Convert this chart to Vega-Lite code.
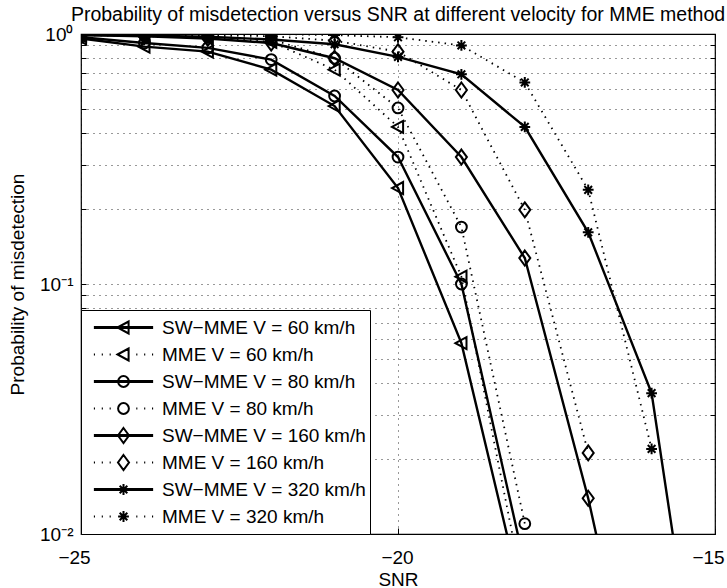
{
  "$schema": "https://vega.github.io/schema/vega-lite/v6.json",
  "width": 634,
  "height": 500,
  "autosize": {"type": "none"},
  "padding": {"left": 81, "top": 34, "right": 12, "bottom": 54},
  "background": "white",
  "title": {
    "text": "Probability of misdetection versus SNR at different velocity for MME method",
    "font": "Liberation Sans",
    "fontSize": 19.5,
    "fontWeight": "normal",
    "color": "black",
    "anchor": "middle",
    "offset": 0
  },
  "config": {
    "view": {"stroke": "black", "strokeWidth": 1.2},
    "axis": {
      "domain": false,
      "labelFont": "Liberation Sans",
      "titleFont": "Liberation Sans",
      "labelFontSize": 19,
      "titleFontSize": 19,
      "titleFontWeight": "normal",
      "labelColor": "black",
      "titleColor": "black",
      "tickColor": "black",
      "tickWidth": 1,
      "gridColor": "black",
      "gridDash": [1, 5],
      "gridOpacity": 0.8,
      "labelOverlap": false,
      "labelFlush": false
    }
  },
  "data": {
    "values": [
      {"s": "SW−MME V = 60 km/h", "m": "SW", "x": -25, "y": 0.96},
      {"s": "SW−MME V = 60 km/h", "m": "SW", "x": -24, "y": 0.89},
      {"s": "SW−MME V = 60 km/h", "m": "SW", "x": -23, "y": 0.85},
      {"s": "SW−MME V = 60 km/h", "m": "SW", "x": -22, "y": 0.72},
      {"s": "SW−MME V = 60 km/h", "m": "SW", "x": -21, "y": 0.515},
      {"s": "SW−MME V = 60 km/h", "m": "SW", "x": -20, "y": 0.242},
      {"s": "SW−MME V = 60 km/h", "m": "SW", "x": -19, "y": 0.058},
      {"s": "SW−MME V = 60 km/h", "m": "SW", "x": -18, "y": 0.005},
      {"s": "MME V = 60 km/h", "m": "MME", "x": -25, "y": 0.99},
      {"s": "MME V = 60 km/h", "m": "MME", "x": -24, "y": 0.98},
      {"s": "MME V = 60 km/h", "m": "MME", "x": -23, "y": 0.97},
      {"s": "MME V = 60 km/h", "m": "MME", "x": -22, "y": 0.93},
      {"s": "MME V = 60 km/h", "m": "MME", "x": -21, "y": 0.72},
      {"s": "MME V = 60 km/h", "m": "MME", "x": -20, "y": 0.425},
      {"s": "MME V = 60 km/h", "m": "MME", "x": -19, "y": 0.107},
      {"s": "MME V = 60 km/h", "m": "MME", "x": -18, "y": 0.0056},
      {"s": "SW−MME V = 80 km/h", "m": "SW", "x": -25, "y": 0.97},
      {"s": "SW−MME V = 80 km/h", "m": "SW", "x": -24, "y": 0.92},
      {"s": "SW−MME V = 80 km/h", "m": "SW", "x": -23, "y": 0.88},
      {"s": "SW−MME V = 80 km/h", "m": "SW", "x": -22, "y": 0.79},
      {"s": "SW−MME V = 80 km/h", "m": "SW", "x": -21, "y": 0.565},
      {"s": "SW−MME V = 80 km/h", "m": "SW", "x": -20, "y": 0.322},
      {"s": "SW−MME V = 80 km/h", "m": "SW", "x": -19, "y": 0.1},
      {"s": "SW−MME V = 80 km/h", "m": "SW", "x": -18, "y": 0.0075},
      {"s": "MME V = 80 km/h", "m": "MME", "x": -25, "y": 0.99},
      {"s": "MME V = 80 km/h", "m": "MME", "x": -24, "y": 0.99},
      {"s": "MME V = 80 km/h", "m": "MME", "x": -23, "y": 0.98},
      {"s": "MME V = 80 km/h", "m": "MME", "x": -22, "y": 0.95},
      {"s": "MME V = 80 km/h", "m": "MME", "x": -21, "y": 0.8},
      {"s": "MME V = 80 km/h", "m": "MME", "x": -20, "y": 0.506},
      {"s": "MME V = 80 km/h", "m": "MME", "x": -19, "y": 0.169},
      {"s": "MME V = 80 km/h", "m": "MME", "x": -18, "y": 0.011},
      {"s": "SW−MME V = 160 km/h", "m": "SW", "x": -25, "y": 0.99},
      {"s": "SW−MME V = 160 km/h", "m": "SW", "x": -24, "y": 0.98},
      {"s": "SW−MME V = 160 km/h", "m": "SW", "x": -23, "y": 0.96},
      {"s": "SW−MME V = 160 km/h", "m": "SW", "x": -22, "y": 0.92},
      {"s": "SW−MME V = 160 km/h", "m": "SW", "x": -21, "y": 0.8},
      {"s": "SW−MME V = 160 km/h", "m": "SW", "x": -20, "y": 0.597},
      {"s": "SW−MME V = 160 km/h", "m": "SW", "x": -19, "y": 0.322},
      {"s": "SW−MME V = 160 km/h", "m": "SW", "x": -18, "y": 0.127},
      {"s": "SW−MME V = 160 km/h", "m": "SW", "x": -17, "y": 0.0139},
      {"s": "SW−MME V = 160 km/h", "m": "SW", "x": -16, "y": 0.001},
      {"s": "MME V = 160 km/h", "m": "MME", "x": -25, "y": 1},
      {"s": "MME V = 160 km/h", "m": "MME", "x": -24, "y": 1},
      {"s": "MME V = 160 km/h", "m": "MME", "x": -23, "y": 0.99},
      {"s": "MME V = 160 km/h", "m": "MME", "x": -22, "y": 0.98},
      {"s": "MME V = 160 km/h", "m": "MME", "x": -21, "y": 0.94},
      {"s": "MME V = 160 km/h", "m": "MME", "x": -20, "y": 0.85},
      {"s": "MME V = 160 km/h", "m": "MME", "x": -19, "y": 0.597},
      {"s": "MME V = 160 km/h", "m": "MME", "x": -18, "y": 0.198},
      {"s": "MME V = 160 km/h", "m": "MME", "x": -17, "y": 0.0211},
      {"s": "SW−MME V = 320 km/h", "m": "SW", "x": -25, "y": 0.99},
      {"s": "SW−MME V = 320 km/h", "m": "SW", "x": -24, "y": 0.985},
      {"s": "SW−MME V = 320 km/h", "m": "SW", "x": -23, "y": 0.975},
      {"s": "SW−MME V = 320 km/h", "m": "SW", "x": -22, "y": 0.95},
      {"s": "SW−MME V = 320 km/h", "m": "SW", "x": -21, "y": 0.91},
      {"s": "SW−MME V = 320 km/h", "m": "SW", "x": -20, "y": 0.81},
      {"s": "SW−MME V = 320 km/h", "m": "SW", "x": -19, "y": 0.69},
      {"s": "SW−MME V = 320 km/h", "m": "SW", "x": -18, "y": 0.425},
      {"s": "SW−MME V = 320 km/h", "m": "SW", "x": -17, "y": 0.161},
      {"s": "SW−MME V = 320 km/h", "m": "SW", "x": -16, "y": 0.0366},
      {"s": "SW−MME V = 320 km/h", "m": "SW", "x": -15, "y": 0.00075},
      {"s": "MME V = 320 km/h", "m": "MME", "x": -25, "y": 1},
      {"s": "MME V = 320 km/h", "m": "MME", "x": -24, "y": 1},
      {"s": "MME V = 320 km/h", "m": "MME", "x": -23, "y": 1},
      {"s": "MME V = 320 km/h", "m": "MME", "x": -22, "y": 1},
      {"s": "MME V = 320 km/h", "m": "MME", "x": -21, "y": 0.99},
      {"s": "MME V = 320 km/h", "m": "MME", "x": -20, "y": 0.97},
      {"s": "MME V = 320 km/h", "m": "MME", "x": -19, "y": 0.9},
      {"s": "MME V = 320 km/h", "m": "MME", "x": -18, "y": 0.64},
      {"s": "MME V = 320 km/h", "m": "MME", "x": -17, "y": 0.238},
      {"s": "MME V = 320 km/h", "m": "MME", "x": -16, "y": 0.0219}
    ]
  },
  "layer": [
    {
      "transform": [{"filter": "datum.m == 'SW'"}],
      "mark": {"type": "line", "stroke": "black", "strokeWidth": 2.4, "clip": true},
      "encoding": {
        "x": {
          "field": "x", "type": "quantitative",
          "scale": {"domain": [-25, -15], "nice": false, "zero": false},
          "axis": {
            "orient": "bottom", "values": [-25, -20, -15], "grid": true,
            "tickSize": -6, "labelPadding": 20,
            "labelOffset": {"condition": {"test": "datum.value == -20", "value": -1}, "value": -7},
            "title": "SNR", "titlePadding": 3
          }
        },
        "y": {
          "field": "y", "type": "quantitative",
          "scale": {"type": "log", "domain": [0.01, 1], "nice": false},
          "axis": {
            "orient": "left",
            "values": [0.01, 0.02, 0.03, 0.04, 0.05, 0.06, 0.07, 0.08, 0.09, 0.1, 0.2, 0.3, 0.4, 0.5, 0.6, 0.7, 0.8, 0.9, 1],
            "labelExpr": "datum.value == 1 ? '10⁰' : (datum.value == 0.1 ? '10⁻¹' : (datum.value == 0.01 ? '10⁻²' : ''))",
            "grid": true, "tickSize": -5, "labelPadding": 13,
            "title": "Probability of misdetection", "titlePadding": 12
          }
        },
        "detail": {"field": "s"}
      }
    },
    {
      "transform": [{"filter": "datum.m == 'MME'"}],
      "mark": {"type": "line", "stroke": "black", "strokeWidth": 1.8, "strokeDash": [1.5, 5], "clip": true},
      "encoding": {
        "x": {"field": "x", "type": "quantitative", "axis": null},
        "y": {"field": "y", "type": "quantitative", "axis": null},
        "detail": {"field": "s"}
      }
    },
    {
      "mark": {"type": "point", "filled": false, "stroke": "black", "strokeWidth": 2, "size": 144, "opacity": 1, "clip": true},
      "encoding": {
        "x": {
          "field": "x", "type": "quantitative",
          "axis": {"orient": "top", "values": [-25, -20, -15], "labels": false, "grid": false, "tickSize": -6, "title": null}
        },
        "y": {
          "field": "y", "type": "quantitative",
          "axis": {
            "orient": "right",
            "values": [0.01, 0.02, 0.03, 0.04, 0.05, 0.06, 0.07, 0.08, 0.09, 0.1, 0.2, 0.3, 0.4, 0.5, 0.6, 0.7, 0.8, 0.9, 1],
            "labels": false, "grid": false, "tickSize": -5, "title": null
          }
        },
        "shape": {
          "field": "s", "type": "nominal",
          "scale": {
            "domain": ["SW−MME V = 60 km/h", "MME V = 60 km/h", "SW−MME V = 80 km/h", "MME V = 80 km/h", "SW−MME V = 160 km/h", "MME V = 160 km/h", "SW−MME V = 320 km/h", "MME V = 320 km/h"],
            "range": [
              "M-1,0L0.85,-1L0.85,1Z",
              "M-1,0L0.85,-1L0.85,1Z",
              "M0.9,0A0.9,0.9,0,1,1,-0.9,0A0.9,0.9,0,1,1,0.9,0Z",
              "M0.9,0A0.9,0.9,0,1,1,-0.9,0A0.9,0.9,0,1,1,0.9,0Z",
              "M0,-1.25L0.92,0L0,1.25L-0.92,0Z",
              "M0,-1.25L0.92,0L0,1.25L-0.92,0Z",
              "M0,-0.9V0.9M-0.9,0H0.9M-0.64,-0.64L0.64,0.64M-0.64,0.64L0.64,-0.64",
              "M0,-0.9V0.9M-0.9,0H0.9M-0.64,-0.64L0.64,0.64M-0.64,0.64L0.64,-0.64"
            ]
          },
          "legend": null
        }
      }
    },
    {
      "mark": {"type": "point", "filled": false, "stroke": "black", "strokeWidth": 2, "opacity": 0, "clip": true},
      "encoding": {
        "x": {"field": "x", "type": "quantitative", "axis": null},
        "y": {"field": "y", "type": "quantitative", "axis": null},
        "shape": {
          "field": "s", "type": "nominal",
          "scale": {
            "domain": ["SW−MME V = 60 km/h", "MME V = 60 km/h", "SW−MME V = 80 km/h", "MME V = 80 km/h", "SW−MME V = 160 km/h", "MME V = 160 km/h", "SW−MME V = 320 km/h", "MME V = 320 km/h"],
            "range": [
              "M-0.79,-0.013H0.79M-0.79,0.013H0.79M-0.16,0L0.136,-0.16L0.136,0.16Z",
              "M-0.79,0h0.03M-0.58,0h0.03M-0.37,0h0.03M0.34,0h0.03M0.55,0h0.03M0.76,0h0.03M-0.16,0L0.136,-0.16L0.136,0.16Z",
              "M-0.79,-0.013H0.79M-0.79,0.013H0.79M0.144,0A0.144,0.144,0,1,1,-0.144,0A0.144,0.144,0,1,1,0.144,0Z",
              "M-0.79,0h0.03M-0.58,0h0.03M-0.37,0h0.03M0.34,0h0.03M0.55,0h0.03M0.76,0h0.03M0.144,0A0.144,0.144,0,1,1,-0.144,0A0.144,0.144,0,1,1,0.144,0Z",
              "M-0.79,-0.013H0.79M-0.79,0.013H0.79M0,-0.2L0.147,0L0,0.2L-0.147,0Z",
              "M-0.79,0h0.03M-0.58,0h0.03M-0.37,0h0.03M0.34,0h0.03M0.55,0h0.03M0.76,0h0.03M0,-0.2L0.147,0L0,0.2L-0.147,0Z",
              "M-0.79,-0.013H0.79M-0.79,0.013H0.79M0,-0.144V0.144M-0.144,0H0.144M-0.102,-0.102L0.102,0.102M-0.102,0.102L0.102,-0.102",
              "M-0.79,0h0.03M-0.58,0h0.03M-0.37,0h0.03M0.34,0h0.03M0.55,0h0.03M0.76,0h0.03M0,-0.144V0.144M-0.144,0H0.144M-0.102,-0.102L0.102,0.102M-0.102,0.102L0.102,-0.102"
            ]
          },
          "legend": {
            "title": null,
            "orient": "bottom-left",
            "offset": 0,
            "padding": 4,
            "fillColor": "white",
            "strokeColor": "black",
            "symbolSize": 5625,
            "symbolStrokeWidth": 2,
            "symbolStrokeColor": "black",
            "symbolFillColor": "transparent",
            "symbolOpacity": 1,
            "labelFont": "Liberation Sans",
            "labelFontSize": 19,
            "labelColor": "black",
            "labelOffset": 0,
            "labelLimit": 400,
            "clipHeight": 27,
            "rowPadding": 0
          }
        }
      }
    }
  ],
  "resolve": {
    "axis": {"x": "independent", "y": "independent"},
    "scale": {"shape": "independent"}
  }
}
